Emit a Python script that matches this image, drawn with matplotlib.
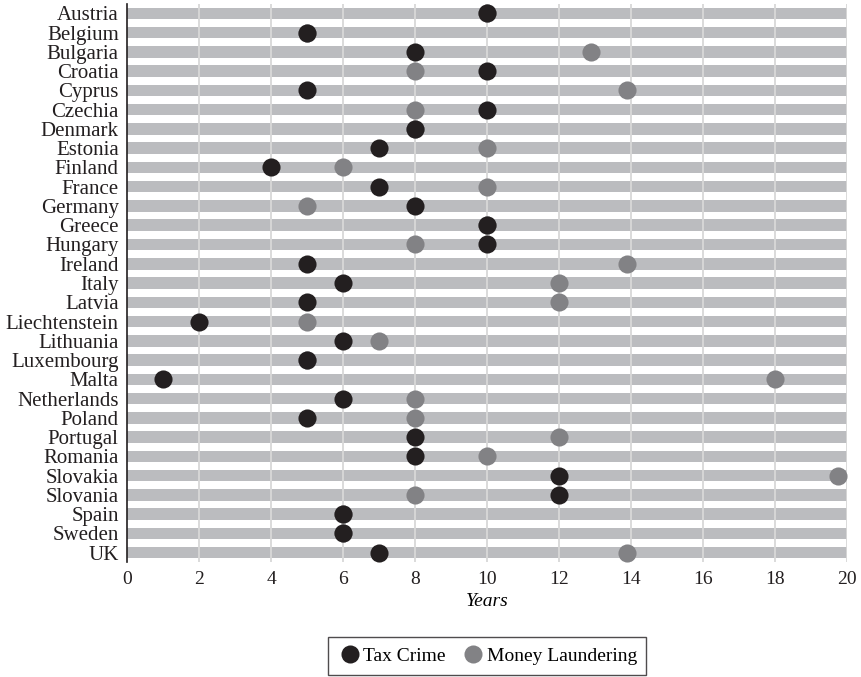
import matplotlib.pyplot as plt
import numpy as np
from matplotlib.lines import Line2D

plt.rcParams['font.family'] = ['Liberation Serif', 'DejaVu Serif']

# data
countries = ['Austria', 'Belgium', 'Bulgaria', 'Croatia', 'Cyprus', 'Czechia', 'Denmark',
             'Estonia', 'Finland', 'France', 'Germany', 'Greece', 'Hungary', 'Ireland',
             'Italy', 'Latvia', 'Liechtenstein', 'Lithuania', 'Luxembourg', 'Malta',
             'Netherlands', 'Poland', 'Portugal', 'Romania', 'Slovakia', 'Slovania',
             'Spain', 'Sweden', 'UK']
tax_crime = [10, 5, 8, 10, 5, 10, 8, 7, 4, 7, 8, 10, 10, 5, 6, 5, 2, 6, 5, 1,
             6, 5, 8, 8, 12, 12, 6, 6, 7]
money_laundering = [10, 5, 12.9, 8, 13.9, 8, 8, 10, 6, 10, 5, 10, 8, 13.9, 12, 12, 5, 7, 5, 18,
                    8, 8, 12, 10, 19.75, 8, 6, 6, 13.9]

black = '#231f20'
grey = '#828285'
band = '#bbbcbf'

fig = plt.figure(figsize=(8.61, 6.77), dpi=100)
ax = fig.add_axes([0.1475, 0.1694, 0.8363, 0.8251])

y = np.arange(len(countries))
ax.barh(y, [20]*len(countries), height=0.6, left=0, color=band, zorder=1)
for xv in range(2, 21, 2):
    ax.axvline(xv, color='#d8d8d8', lw=1.3, zorder=2)

ax.scatter(money_laundering, y, s=170, color=grey, zorder=3, clip_on=False, linewidths=0)
ax.scatter(tax_crime, y, s=170, color=black, zorder=4, clip_on=False, linewidths=0)

ax.set_xlim(0, 20)
ax.set_ylim(len(countries) - 0.5, -0.5)
ax.set_yticks(y)
ax.set_yticklabels(countries, fontsize=15)
ax.set_xticks(range(0, 21, 2))
ax.tick_params(axis='both', length=0, colors='#231f20')
ax.tick_params(axis='x', pad=6, labelsize=14)
ax.tick_params(axis='y', pad=6)
for s in ['top', 'right', 'bottom']:
    ax.spines[s].set_visible(False)
ax.spines['left'].set_color('#231f20')
ax.spines['left'].set_linewidth(1.2)
ax.set_xlabel('Years', fontsize=14, style='italic', labelpad=4)

handles = [Line2D([], [], marker='o', ls='', color=black, markersize=13, mew=0),
           Line2D([], [], marker='o', ls='', color=grey, markersize=13, mew=0)]
leg = fig.legend(handles, ['Tax Crime', 'Money Laundering'], loc='center',
                 bbox_to_anchor=(0.566, 0.031), ncol=2, fontsize=14, frameon=True,
                 fancybox=False, edgecolor='#231f20', handletextpad=0.1,
                 columnspacing=0.8, handlelength=1.2, borderpad=0.5)
leg.get_frame().set_linewidth(1.0)

fig.savefig('out.png', dpi=100)
